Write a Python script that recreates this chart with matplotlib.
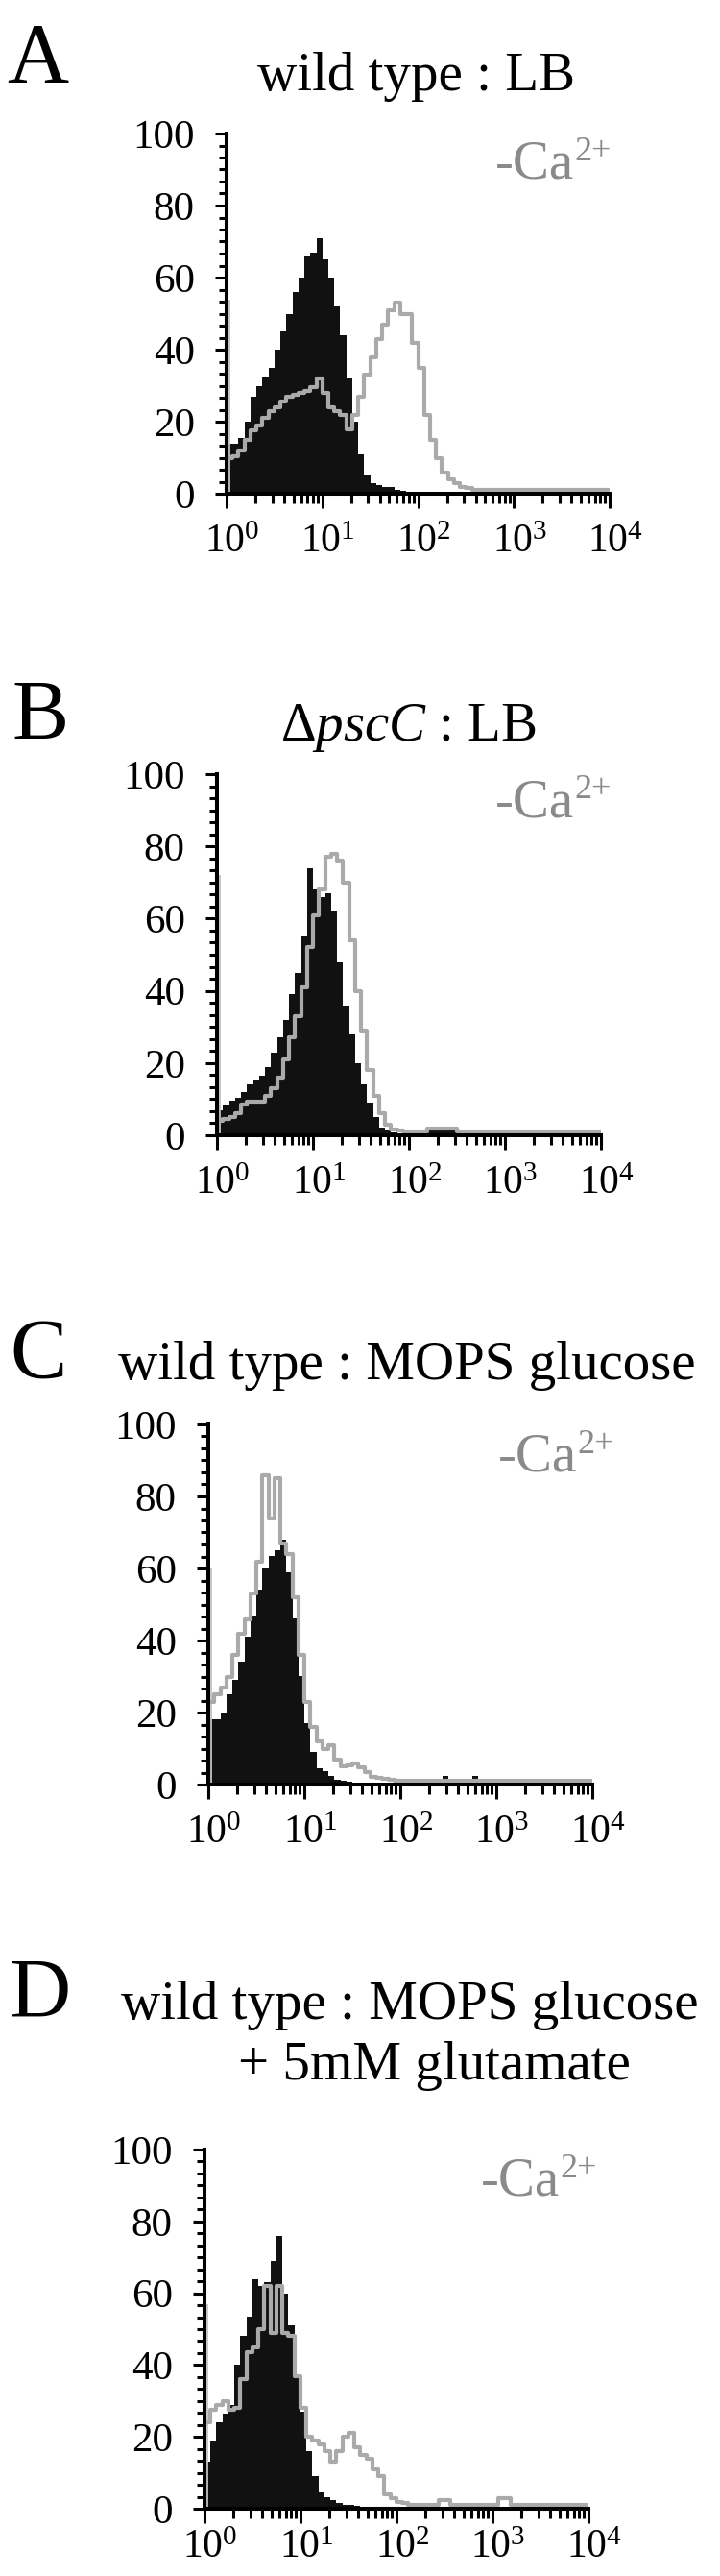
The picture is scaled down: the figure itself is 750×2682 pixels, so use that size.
import numpy as np
import matplotlib
matplotlib.use("Agg")
import matplotlib.pyplot as plt
from matplotlib.ticker import MultipleLocator, LogLocator, NullFormatter
from matplotlib.transforms import ScaledTranslation

plt.rcParams['font.family'] = ['Liberation Serif', 'DejaVu Serif']
plt.rcParams['mathtext.fontset'] = 'custom'
plt.rcParams['mathtext.rm'] = 'Liberation Serif'
plt.rcParams['mathtext.it'] = 'Liberation Serif:italic'
plt.rcParams['mathtext.bf'] = 'Liberation Serif:bold'

# histogram channels: 16 per decade, 10^0 .. 10^4
edges = 10 ** (np.arange(65) / 16.0)
xticks = [1, 10, 100, 1000, 10000]
xticklabels = [r'$10^{0}$', r'$10^{1}$', r'$10^{2}$', r'$10^{3}$', r'$10^{4}$']
yticks = [0, 20, 40, 60, 80, 100]

# A: wild type, LB
a_black = [14, 14, 15.5, 20, 27, 30, 32.5, 35, 40, 45, 50, 56, 60, 66, 67, 71,
           65, 60, 52, 44, 32, 20, 11, 5, 3, 2.5, 2, 1.8, 1, 0.8] + [0.5] * 34
a_gray = [10, 10.5, 12, 15, 17.5, 19, 21, 23, 24, 25.5, 27, 27.5, 28, 28.5, 29.5, 32,
          28, 24, 23, 22, 18, 22, 27, 33, 38, 43, 47, 51, 53, 50, 50, 42,
          35, 22, 15, 10, 6, 4, 3, 2, 1.5, 1.2] + [1.0] * 22
a_spike = 54

# B: pscC mutant, LB
b_black = [7, 8.5, 9.5, 10.5, 12, 14, 15.5, 16.5, 19, 23, 27, 32, 39, 45, 55, 74,
           68, 66, 67, 62, 48, 36, 28, 20, 14, 9, 5, 2, 1.2, 0.8,
           0.6, 0.6, 0.6, 0.6, 0.6, 1.5, 1.5, 1.5, 1.5, 1.5] + [0.5] * 24
b_gray = [4, 4.5, 5, 6, 8.5, 9.4, 9.4, 9.4, 11, 13, 16, 21, 27, 33, 41, 52,
          61, 68, 77, 78, 76, 70, 54, 40, 29, 18, 11, 6, 3, 1.5,
          1.2, 1, 1, 1, 1, 1.8, 1.8, 1.8, 1.8, 1.8] + [1.0] * 24
b_spike = 72

# C: wild type, MOPS glucose
c_black = ([18, 18, 20, 25, 29, 34, 41, 47, 54, 60, 63.5, 65, 68, 59, 46, 30,
            17, 9, 4.5, 3.6, 2.5, 1.3, 1, 0.8] + [0.5] * 15 + [2.5] + [0.5] * 4
           + [2.5] + [0.5] * 19)
c_gray = [23, 25, 27, 30, 36, 42, 46, 53, 62, 86, 74, 85, 67, 64, 52, 36,
          23, 16, 12, 10, 11, 7, 5, 5.3, 5.8, 4.9, 3.6, 2.2, 1.8, 1.5, 1.3] + [1.0] * 33
c_spike = 60

# D: wild type, MOPS glucose + 5mM glutamate
d_black = [13, 19, 24, 26.5, 29, 40, 48, 53.5, 64, 62, 63, 69, 76, 60, 51, 37,
           27, 16, 9, 4.5, 3.3, 2.5, 1.5, 1.2, 1, 0.8] + [0.5] * 38
d_gray = ([24, 27.5, 29, 30, 27.5, 28, 36, 43.5, 45, 50, 62, 49, 62, 49, 48, 37,
           28, 20, 19, 18, 16, 13, 16, 20, 21, 17, 15, 14, 11, 9, 4, 3, 2, 1.5, 1.2]
          + [1.0] * 4 + [2.3] * 2 + [1.0] * 8 + [3.0] * 2 + [1.0] * 13)
d_spike = 57

W, H = 750, 2682
fig = plt.figure(figsize=(W / 100, H / 100), dpi=100)

panels = [
    dict(letter='A', lpos=(7, 85), box=(236, 139, 635, 514), xpad=12,
         titles=[('wild type : LB', 433, 94)], ca=(637, 186),
         black=a_black, gray=a_gray, spike=a_spike),
    dict(letter='B', lpos=(12, 769), box=(226, 806, 626, 1182), xpad=12,
         titles=[('\u0394$\\mathit{pscC}$ : LB', 426, 771)], ca=(637, 850),
         black=b_black, gray=b_gray, spike=b_spike),
    dict(letter='C', lpos=(10, 1434), box=(217, 1483, 617, 1858), xpad=12,
         titles=[('wild type : MOPS glucose', 424, 1436)], ca=(640, 1532),
         black=c_black, gray=c_gray, spike=c_spike),
    dict(letter='D', lpos=(9, 2100), box=(213, 2238, 613, 2612), xpad=5,
         titles=[('wild type : MOPS glucose', 427, 2102),
                 ('+ 5mM glutamate', 452, 2165)], ca=(622, 2286),
         black=d_black, gray=d_gray, spike=d_spike),
]

ca_color = '#8a8a8a'
sups = []
for p in panels:
    l, t, r, b = p['box']
    ax = fig.add_axes([l / W, 1 - b / H, (r - l) / W, (b - t) / H])
    ax.set_facecolor('none')

    blk = np.asarray(p['black'], dtype=float)
    gry = np.asarray(p['gray'], dtype=float)
    ax.fill_between(edges, np.append(blk, blk[-1]), 0, step='post',
                    color='#111111', lw=0, zorder=1)
    ax.vlines(1.07, 0, p['spike'], color='#c4c4c4', lw=1.3, zorder=2)
    ax.step(edges, np.append(gry, gry[-1]), where='post',
            color='#aaaaaa', lw=3.0, zorder=2)

    ax.set_xscale('log')
    ax.set_xlim(1, 1e4)
    ax.set_ylim(0, 100)
    ax.spines[['top', 'right']].set_visible(False)
    for s in ['left', 'bottom']:
        ax.spines[s].set_linewidth(2.9)
        ax.spines[s].set_zorder(3)

    ax.set_xticks(xticks)
    ax.set_xticklabels(xticklabels)
    ax.xaxis.set_minor_locator(LogLocator(base=10, subs=np.arange(2, 10), numticks=20))
    ax.xaxis.set_minor_formatter(NullFormatter())
    ax.set_yticks(yticks)
    ax.yaxis.set_minor_locator(MultipleLocator(20 / 6))
    ax.tick_params(axis='x', which='major', length=10.5, width=2.2, pad=p['xpad'], labelsize=30)
    ax.tick_params(axis='x', which='minor', length=7, width=2.2)
    ax.tick_params(axis='y', which='major', length=9, width=2.2, pad=15, labelsize=31)
    ax.tick_params(axis='y', which='minor', length=6, width=2.2)
    for lab in ax.get_xticklabels():
        lab.set_transform(lab.get_transform() + ScaledTranslation(0.06, 0, fig.dpi_scale_trans))

    lx, ly = p['lpos']
    fig.text(lx / W, 1 - ly / H, p['letter'], ha='left', va='baseline', fontsize=64)
    for s, tx, ty in p['titles']:
        fig.text(tx / W, 1 - ty / H, s, ha='center', va='baseline', fontsize=41)
    cx, cy = p['ca']
    sup = fig.text(cx / W, 1 - (cy - 19) / H, '2+', ha='right', va='baseline',
                   fontsize=26, color=ca_color)
    sups.append((sup, cy))

# place "-Ca" just left of its superscript
fig.canvas.draw()
for sup, cy in sups:
    x0 = sup.get_window_extent().x0
    fig.text((x0 - 1) / W, 1 - cy / H, '-Ca', ha='right', va='baseline',
             fontsize=41, color=ca_color)

fig.savefig('out.png', dpi=100)
